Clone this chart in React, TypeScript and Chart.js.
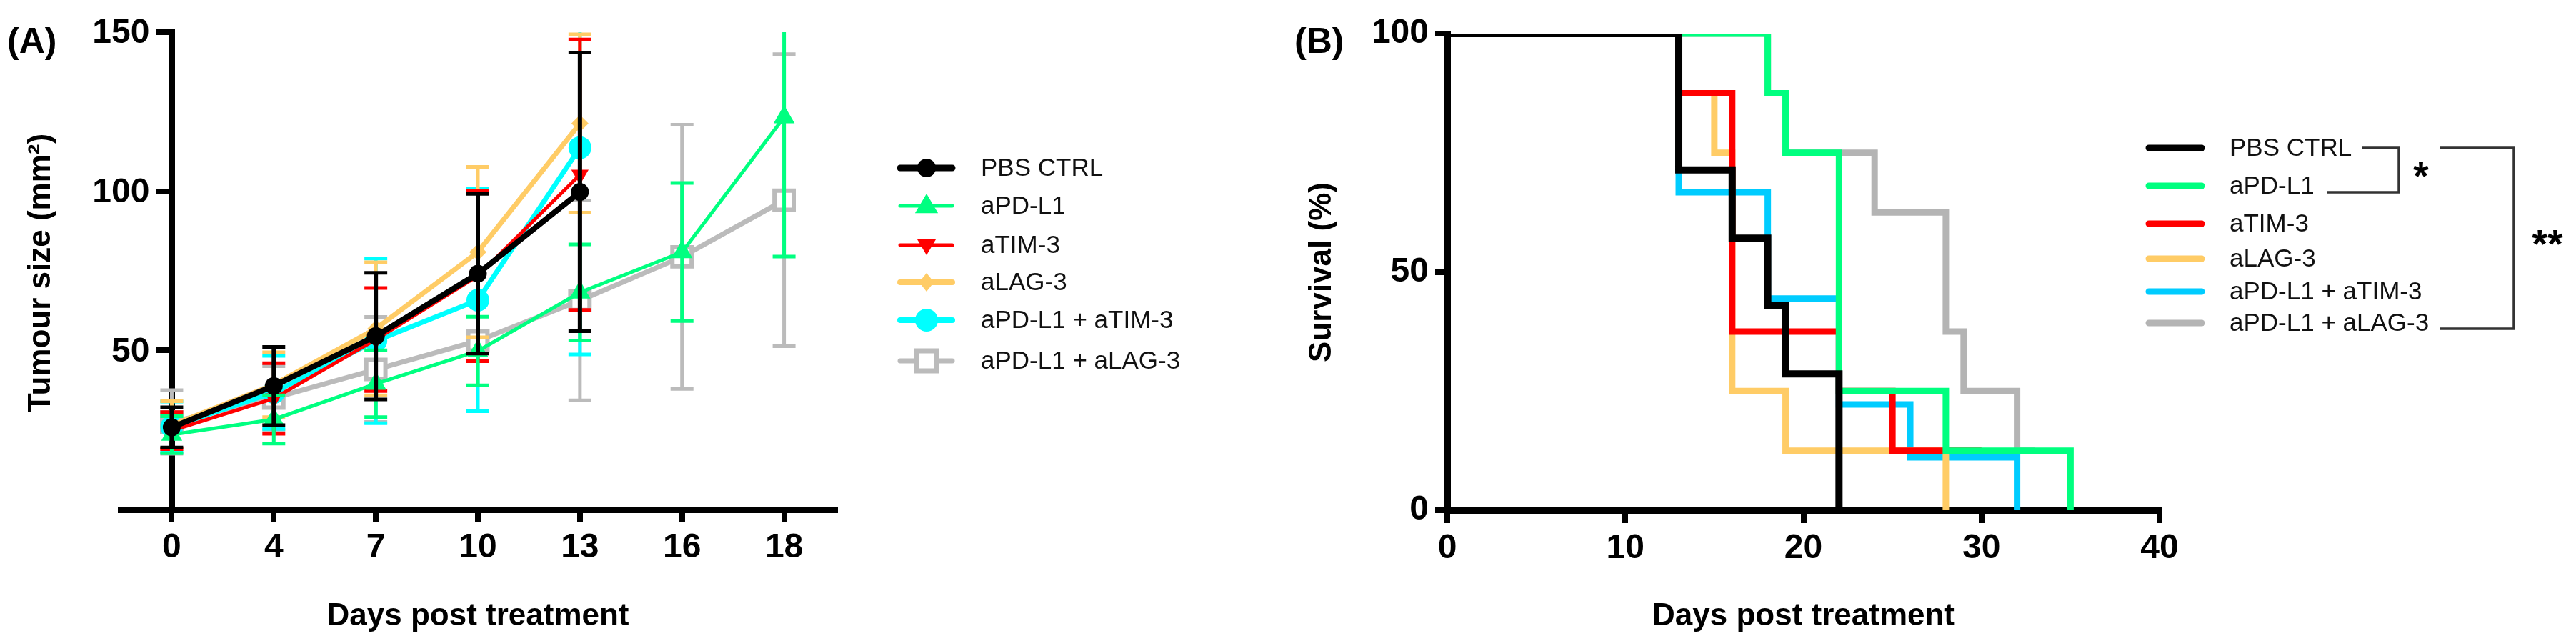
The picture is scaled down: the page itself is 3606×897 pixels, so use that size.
import React, { useEffect, useRef } from 'react';
import { Chart, registerables } from 'chart.js';

Chart.register(...registerables);

const FONT = "'Liberation Sans', Arial, Helvetica, sans-serif";

// ---------- Panel A: tumour growth ----------
const DAYS_A = ['0', '4', '7', '10', '13', '16', '18'];
const NAMES = ['PBS CTRL', 'aPD-L1', 'aTIM-3', 'aLAG-3', 'aPD-L1 + aTIM-3', 'aPD-L1 + aLAG-3'];

const PBS_MEAN = [25.8, 38.8, 54.5, 74.1, 99.8];
const PBS_ERR = [6.3, 12.3, 19.9, 25.1, 43.8];
const PDL1_MEAN = [23.5, 28.3, 39.5, 49.8, 68.2, 80.9, 123.3];
const PDL1_ERR = [5.8, 7.6, 10.5, 10.8, 15.1, 21.7, 43.8];
const TIM3_MEAN = [24.8, 34.9, 53.4, 73.4, 105.2];
const TIM3_ERR = [5.8, 11.1, 16.2, 26.8, 42.5];
const LAG3_MEAN = [26.5, 39.2, 56.8, 80.9, 121.3];
const LAG3_ERR = [7.5, 10.2, 20.9, 26.8, 28.0];
const PDL1_TIM3_MEAN = [26.0, 36.8, 53.0, 65.8, 113.7];
const PDL1_TIM3_ERR = [7.9, 11.5, 25.9, 34.9, 65.0];
const PDL1_LAG3_MEAN = [27.5, 35.0, 44.0, 53.0, 65.7, 79.4, 97.2];
const PDL1_LAG3_ERR = [10.0, 10.0, 16.5, 3.0, 31.4, 41.5, 45.9];

const Y_TICKS_A = [0, 50, 100, 150];
const Y_LABELS_A = ['', '50', '100', '150'];

// ---------- Panel B: survival ----------
const PBS_T = [0, 13, 16, 18, 19, 22];
const PBS_S = [100, 71.4, 57.1, 42.9, 28.6, 0];
const PDL1_T = [0, 18, 19, 22, 28, 35];
const PDL1_S = [100, 87.5, 75, 25, 12.5, 0];
const TIM3_T = [0, 13, 16, 22, 25, 30];
const TIM3_S = [100, 87.5, 37.5, 25, 12.5, 12.5];
const LAG3_T = [0, 13, 15, 16, 19, 28];
const LAG3_S = [100, 87.5, 75, 25, 12.5, 0];
const PDL1_TIM3_T = [0, 13, 18, 22, 26, 32];
const PDL1_TIM3_S = [100, 66.7, 44.4, 22.2, 11.1, 0];
const PDL1_LAG3_T = [0, 18, 19, 24, 28, 29, 32, 33];
const PDL1_LAG3_S = [100, 87.5, 75, 62.5, 37.5, 25, 12.5, 12.5];

const X_TICKS_B = [0, 10, 20, 30, 40];
const Y_TICKS_B = [0, 50, 100];

// colours
const COLORS_A = ['#000000', '#00FF80', '#FF0000', '#FFCC66', '#00FFFF', '#BBBBBB'];
const COLORS_B = ['#000000', '#00FF7F', '#FF0000', '#FFCC66', '#00CCFF', '#B4B4B4'];

type Marker = 'circle' | 'triUp' | 'triDown' | 'diamond' | 'square';
const MARKERS: Marker[] = ['circle', 'triUp', 'triDown', 'diamond', 'circle', 'square'];

function drawMarker(ctx: CanvasRenderingContext2D, m: Marker, x: number, y: number, s: number, color: string) {
  ctx.save();
  ctx.fillStyle = color;
  ctx.strokeStyle = color;
  ctx.beginPath();
  if (m === 'circle') {
    ctx.arc(x, y, s, 0, Math.PI * 2);
    ctx.fill();
  } else if (m === 'triUp') {
    ctx.moveTo(x, y - s);
    ctx.lineTo(x + s * 0.95, y + s * 0.6);
    ctx.lineTo(x - s * 0.95, y + s * 0.6);
    ctx.closePath();
    ctx.fill();
  } else if (m === 'triDown') {
    ctx.moveTo(x, y + s);
    ctx.lineTo(x + s * 0.95, y - s * 0.6);
    ctx.lineTo(x - s * 0.95, y - s * 0.6);
    ctx.closePath();
    ctx.fill();
  } else if (m === 'diamond') {
    ctx.moveTo(x, y - s);
    ctx.lineTo(x + s * 0.8, y);
    ctx.lineTo(x, y + s);
    ctx.lineTo(x - s * 0.8, y);
    ctx.closePath();
    ctx.fill();
  } else {
    ctx.fillStyle = '#ffffff';
    ctx.rect(x - s, y - s, 2 * s, 2 * s);
    ctx.fill();
    ctx.lineWidth = 7;
    ctx.stroke();
  }
  ctx.restore();
}

const errorBarPlugin = {
  id: 'errorBars',
  beforeDatasetDraw(chart: any, args: any) {
    const ds = chart.data.datasets[args.index];
    if (!ds.errors) return;
    const { ctx, chartArea } = chart;
    const xs = chart.scales.x;
    const ys = chart.scales.y;
    ctx.save();
    ctx.beginPath();
    ctx.rect(chartArea.left, chartArea.top, chartArea.right - chartArea.left, chartArea.bottom - chartArea.top + 10);
    ctx.clip();
    ctx.strokeStyle = ds.borderColor;
    ds.data.forEach((p: any, i: number) => {
      const e = ds.errors[i];
      const px = xs.getPixelForValue(p.x);
      const top = ys.getPixelForValue(p.y + e);
      const bot = ys.getPixelForValue(p.y - e);
      ctx.lineWidth = ds.errWidth;
      ctx.beginPath();
      ctx.moveTo(px, top);
      ctx.lineTo(px, bot);
      ctx.stroke();
      ctx.lineWidth = 5;
      ctx.beginPath();
      ctx.moveTo(px - 16, top);
      ctx.lineTo(px + 16, top);
      ctx.moveTo(px - 16, bot);
      ctx.lineTo(px + 16, bot);
      ctx.stroke();
    });
    ctx.restore();
  },
};

const LEG_A_ROWS = [235, 288, 343, 395, 448, 505];
const LEG_A_LINEW = [9, 5, 5, 8, 8, 7];
const LEG_A_SIZE = [13, 17, 14, 13, 16, 14];

const decorA = {
  id: 'decorA',
  afterDraw(chart: any) {
    const { ctx, chartArea } = chart;
    const xs = chart.scales.x;
    const ys = chart.scales.y;
    ctx.save();
    ctx.fillStyle = '#000';
    // y tick labels (positioned off the y axis placed at x = 0)
    ctx.font = `bold 48px ${FONT}`;
    ctx.textAlign = 'right';
    ctx.textBaseline = 'middle';
    const axisX = xs.getPixelForValue(0);
    Y_TICKS_A.forEach((v, i) => {
      if (Y_LABELS_A[i]) ctx.fillText(Y_LABELS_A[i], axisX - 31, ys.getPixelForValue(v) + 2);
    });
    ctx.font = `bold 50px ${FONT}`;
    ctx.textAlign = 'left';
    ctx.fillText('(A)', 10, 60);
    ctx.font = `bold 44px ${FONT}`;
    ctx.textAlign = 'center';
    ctx.textBaseline = 'alphabetic';
    ctx.fillText('Days post treatment', (chartArea.left + chartArea.right) / 2, 875);
    ctx.save();
    ctx.translate(58, 382);
    ctx.rotate(-Math.PI / 2);
    ctx.textBaseline = 'middle';
    ctx.fillText('Tumour size (mm²)', 0, 0);
    ctx.restore();
    // legend
    NAMES.forEach((name, i) => {
      const y = LEG_A_ROWS[i];
      ctx.strokeStyle = COLORS_A[i];
      ctx.lineWidth = LEG_A_LINEW[i];
      ctx.lineCap = 'round';
      ctx.beginPath();
      ctx.moveTo(1260, y);
      ctx.lineTo(1333, y);
      ctx.stroke();
      drawMarker(ctx, MARKERS[i], 1297, y, LEG_A_SIZE[i], COLORS_A[i]);
      ctx.fillStyle = '#111';
      ctx.font = `35px ${FONT}`;
      ctx.textAlign = 'left';
      ctx.textBaseline = 'middle';
      ctx.fillText(name, 1373, y + 1);
    });
    ctx.restore();
  },
};

const LEG_B_ROWS = [207, 260, 313, 362, 408, 452];

const decorB = {
  id: 'decorB',
  afterDraw(chart: any) {
    const { ctx, chartArea } = chart;
    ctx.save();
    ctx.fillStyle = '#000';
    ctx.font = `bold 50px ${FONT}`;
    ctx.textAlign = 'left';
    ctx.textBaseline = 'middle';
    ctx.fillText('(B)', 12, 60);
    ctx.font = `bold 44px ${FONT}`;
    ctx.textAlign = 'center';
    ctx.textBaseline = 'alphabetic';
    ctx.fillText('Days post treatment', (chartArea.left + chartArea.right) / 2, 875);
    ctx.save();
    ctx.translate(51, 381);
    ctx.rotate(-Math.PI / 2);
    ctx.textBaseline = 'middle';
    ctx.fillText('Survival (%)', 0, 0);
    ctx.restore();
    NAMES.forEach((name, i) => {
      const y = LEG_B_ROWS[i];
      ctx.strokeStyle = COLORS_B[i];
      ctx.lineWidth = 9;
      ctx.lineCap = 'round';
      ctx.beginPath();
      ctx.moveTo(1208, y);
      ctx.lineTo(1282, y);
      ctx.stroke();
      ctx.fillStyle = '#111';
      ctx.font = `35px ${FONT}`;
      ctx.textAlign = 'left';
      ctx.textBaseline = 'middle';
      ctx.fillText(name, 1321, y + 1);
    });
    // significance brackets
    ctx.strokeStyle = '#333';
    ctx.lineWidth = 3.5;
    ctx.lineCap = 'butt';
    ctx.beginPath();
    ctx.moveTo(1506, 207);
    ctx.lineTo(1558, 207);
    ctx.lineTo(1558, 269);
    ctx.lineTo(1458, 269);
    ctx.moveTo(1616, 207);
    ctx.lineTo(1719, 207);
    ctx.lineTo(1719, 460);
    ctx.lineTo(1616, 460);
    ctx.stroke();
    ctx.fillStyle = '#000';
    ctx.font = `bold 56px ${FONT}`;
    ctx.textAlign = 'center';
    ctx.textBaseline = 'middle';
    ctx.fillText('*', 1589, 250);
    ctx.fillText('**', 1766, 345);
    ctx.restore();
  },
};

function lineDatasetA(i: number, mean: number[], err: number[], extra: any) {
  return {
    label: NAMES[i],
    data: mean.map((y, k) => ({ x: k, y })),
    errors: err,
    errWidth: i === 0 ? 6 : 5,
    borderColor: COLORS_A[i],
    backgroundColor: COLORS_A[i],
    pointBackgroundColor: COLORS_A[i],
    pointBorderColor: COLORS_A[i],
    pointBorderWidth: 0,
    tension: 0,
    fill: false,
    ...extra,
  };
}

function survDataset(i: number, t: number[], s: number[]) {
  return {
    label: NAMES[i],
    data: t.map((x, k) => ({ x, y: s[k] })),
    borderColor: COLORS_B[i],
    backgroundColor: COLORS_B[i],
    borderWidth: i === 0 ? 10 : 9,
    pointRadius: 0,
    stepped: 'before',
    borderJoinStyle: 'miter',
    borderCapStyle: 'butt',
    fill: false,
  };
}

const tickFont = { family: FONT, size: 48, weight: 'bold' as const };

export default function App() {
  const refA = useRef<HTMLCanvasElement>(null);
  const refB = useRef<HTMLCanvasElement>(null);

  useEffect(() => {
    const chartA = new Chart(refA.current as HTMLCanvasElement, {
      type: 'line',
      data: {
        datasets: [
          lineDatasetA(0, PBS_MEAN, PBS_ERR, { borderWidth: 8, pointStyle: 'circle', pointRadius: 12.5 }),
          lineDatasetA(1, PDL1_MEAN, PDL1_ERR, { borderWidth: 5, pointStyle: 'triangle', pointRadius: 17 }),
          lineDatasetA(2, TIM3_MEAN, TIM3_ERR, { borderWidth: 5, pointStyle: 'triangle', pointRotation: 180, pointRadius: 14 }),
          lineDatasetA(3, LAG3_MEAN, LAG3_ERR, { borderWidth: 7, pointStyle: 'rectRot', pointRadius: 12 }),
          lineDatasetA(4, PDL1_TIM3_MEAN, PDL1_TIM3_ERR, { borderWidth: 7, pointStyle: 'circle', pointRadius: 16 }),
          lineDatasetA(5, PDL1_LAG3_MEAN, PDL1_LAG3_ERR, {
            borderWidth: 7, pointStyle: 'rect', pointRadius: 19,
            pointBackgroundColor: '#ffffff', pointBorderWidth: 6,
          }),
        ] as any,
      },
      options: {
        responsive: false,
        animation: false,
        events: [],
        layout: { padding: { left: 169, right: 631, top: 45, bottom: 0 } },
        plugins: { legend: { display: false }, tooltip: { enabled: false } },
        scales: {
          x: {
            type: 'linear',
            min: -0.5,
            max: 6.5,
            afterBuildTicks: (s: any) => { s.ticks = DAYS_A.map((_, k) => ({ value: k })); },
            afterFit: (s: any) => { s.height = 184; },
            grid: { display: true, drawOnChartArea: false, drawTicks: true, tickLength: 18, lineWidth: 8, color: '#000' },
            border: { display: true, width: 9, color: '#000' },
            ticks: {
              callback: (v: any) => DAYS_A[v] ?? '',
              font: tickFont, color: '#000', padding: 7, maxRotation: 0, autoSkip: false,
            },
          },
          y: {
            type: 'linear',
            min: 0,
            max: 150,
            position: { x: 0 } as any,
            afterBuildTicks: (s: any) => { s.ticks = Y_TICKS_A.map((v) => ({ value: v })); },
            grid: { display: true, drawOnChartArea: false, drawTicks: true, tickLength: 17, lineWidth: 8, color: '#000' },
            border: { display: true, width: 9, color: '#000' },
            ticks: { display: false },
          },
        },
      } as any,
      plugins: [errorBarPlugin, decorA],
    });

    const chartB = new Chart(refB.current as HTMLCanvasElement, {
      type: 'line',
      data: {
        datasets: [
          survDataset(0, PBS_T, PBS_S),
          survDataset(1, PDL1_T, PDL1_S),
          survDataset(2, TIM3_T, TIM3_S),
          survDataset(3, LAG3_T, LAG3_S),
          survDataset(4, PDL1_TIM3_T, PDL1_TIM3_S),
          survDataset(5, PDL1_LAG3_T, PDL1_LAG3_S),
        ] as any,
      },
      options: {
        responsive: false,
        animation: false,
        events: [],
        layout: { padding: { left: 0, right: 583, top: 47, bottom: 0 } },
        plugins: { legend: { display: false }, tooltip: { enabled: false } },
        scales: {
          x: {
            type: 'linear',
            min: 0,
            max: 40,
            afterBuildTicks: (s: any) => { s.ticks = X_TICKS_B.map((v) => ({ value: v })); },
            afterFit: (s: any) => { s.height = 183; },
            grid: { display: true, drawOnChartArea: false, drawTicks: true, tickLength: 18, lineWidth: 8, color: '#000' },
            border: { display: true, width: 9, color: '#000' },
            ticks: { font: tickFont, color: '#000', padding: 7, maxRotation: 0, autoSkip: false },
          },
          y: {
            type: 'linear',
            min: 0,
            max: 100,
            position: 'left',
            afterBuildTicks: (s: any) => { s.ticks = Y_TICKS_B.map((v) => ({ value: v })); },
            afterFit: (s: any) => { s.width = 226; },
            grid: { display: true, drawOnChartArea: false, drawTicks: true, tickLength: 17, lineWidth: 8, color: '#000' },
            border: { display: true, width: 9, color: '#000' },
            ticks: { font: tickFont, color: '#000', padding: 9 },
          },
        },
      } as any,
      plugins: [decorB],
    });

    return () => {
      chartA.destroy();
      chartB.destroy();
    };
  }, []);

  return (
    <div style={{ position: 'absolute', left: 0, top: 0, width: 3606, height: 897, background: '#ffffff' }}>
      <canvas ref={refA} width={1800} height={897}
        style={{ position: 'absolute', left: 0, top: 0, width: 1800, height: 897 }} />
      <canvas ref={refB} width={1806} height={897}
        style={{ position: 'absolute', left: 1800, top: 0, width: 1806, height: 897 }} />
    </div>
  );
}
